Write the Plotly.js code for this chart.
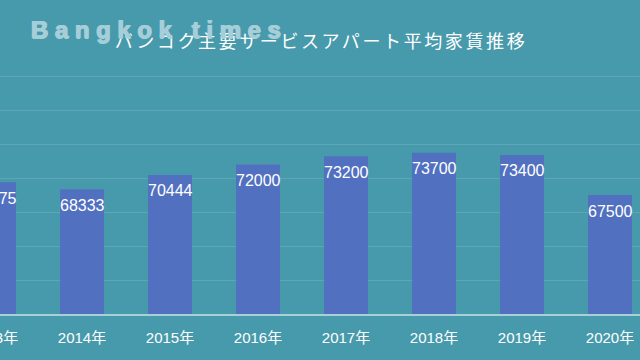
<!DOCTYPE html>
<html>
<head>
<meta charset="utf-8">
<script src="https://cdn.plot.ly/plotly-3.0.1.min.js"></script>
<style>
html,body{margin:0;padding:0;width:640px;height:360px;overflow:hidden;background:#479aac;}
#chart{position:absolute;left:-50px;top:0;width:704px;height:360px;}
</style>
</head>
<body>
<div id="chart"></div>
<script>
const categories = ["2013年","2014年","2015年","2016年","2017年","2018年","2019年","2020年"];
const rents = [69375, 68333, 70444, 72000, 73200, 73700, 73400, 67500];
const labels = rents.map(v => String(v));

const fontFamily = '"Liberation Sans", Arial, "Noto Sans CJK JP", sans-serif';

const plotTop = 75, plotBottom = 314, H = 360;
const plotH = plotBottom - plotTop;

const valueLabels = categories.map((c, i) => ({
  x: c, y: rents[i], xref: 'x', yref: 'y',
  text: labels[i],
  showarrow: false,
  yanchor: 'middle', xanchor: 'center',
  yshift: -16,
  font: {family: fontFamily, size: 16, color: '#ffffff'}
}));

Plotly.newPlot('chart', [{
  type: 'bar',
  x: categories,
  y: rents,
  marker: {color: '#5270c0', line: {width: 0}},
  hoverinfo: 'none'
}], {
  width: 704, height: 360,
  paper_bgcolor: '#479aac',
  plot_bgcolor: '#479aac',
  margin: {l: 0, r: 0, t: plotTop, b: H - plotBottom},
  bargap: 0.5,
  showlegend: false,
  title: {
    text: '<span style="letter-spacing:2.6px">バンコク主要サービスアパート平均家賃推移</span>',
    x: 371/704, xanchor: 'center',
    y: 1 - 42/360, yanchor: 'middle',
    font: {family: '"Noto Sans CJK JP", sans-serif', size: 18, color: '#ffffff'}
  },
  xaxis: {
    type: 'category',
    showgrid: false,
    showline: true, linecolor: '#a9cfd8', linewidth: 2,
    ticks: '',
    ticklabelstandoff: 9,
    tickfont: {family: fontFamily, size: 15, color: '#ffffff'},
    fixedrange: true
  },
  yaxis: {
    range: [50000, 85150],
    dtick: 5000,
    showticklabels: false,
    showgrid: true,
    gridcolor: 'rgba(255,255,255,0.12)',
    gridwidth: 1,
    zeroline: false,
    showline: false,
    fixedrange: true
  },
  annotations: [{
    text: '<span style="letter-spacing:6.6px;font-weight:bold">Bangkok times</span>',
    xref: 'paper', yref: 'paper',
    x: 79/704, xanchor: 'left',
    y: (plotBottom - 29) / plotH, yanchor: 'middle',
    showarrow: false,
    font: {family: '"Liberation Sans", Arial, sans-serif', size: 24, weight: 'bold', color: '#a6ced8',
           shadow: '0.7px 0 0 #a6ced8, -0.7px 0 0 #a6ced8, 0 0.5px 0 #a6ced8'}
  }].concat(valueLabels)
}, {displayModeBar: false, staticPlot: true});
</script>
</body>
</html>
